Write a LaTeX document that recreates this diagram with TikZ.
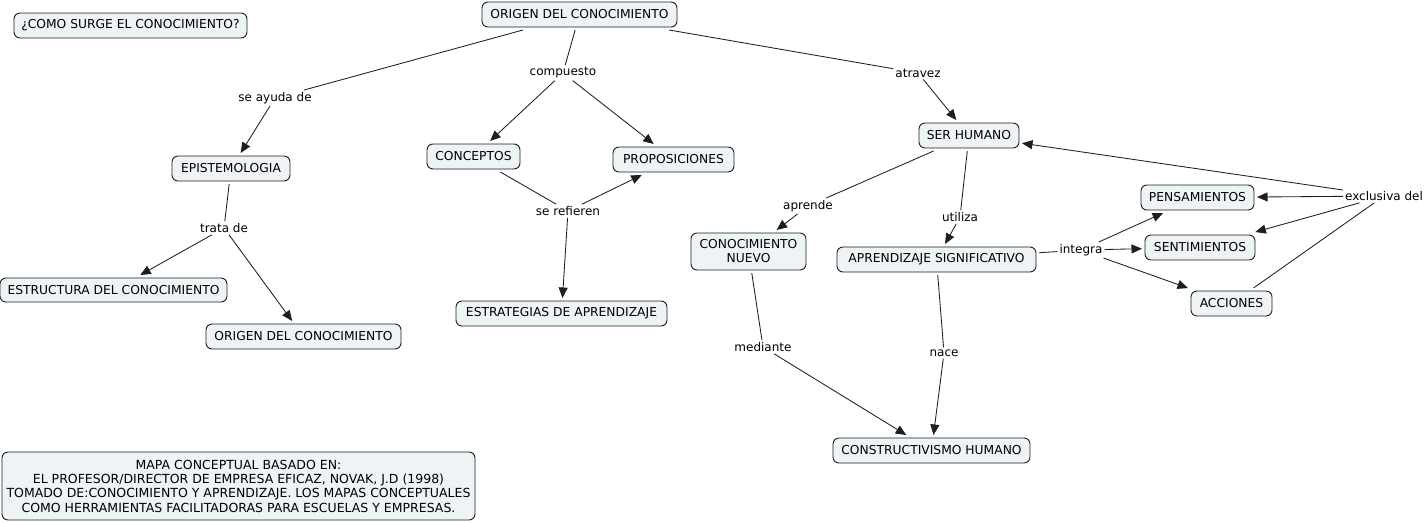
\documentclass[tikz,border=0pt]{standalone}
\usepackage{fontspec}
\setmainfont{DejaVu Sans}
\usetikzlibrary{arrows.meta}
\definecolor{cfill}{RGB}{238,243,246}
\definecolor{cline}{RGB}{30,30,30}
\tikzset{
  concept/.style={draw=cline, fill=cfill, rounded corners=6pt, line width=0.9pt,
    inner sep=0pt, outer sep=3pt, align=center, font=\fontsize{12.3}{14}\selectfont},
  linker/.style={inner sep=2pt, yshift=-1pt, font=\fontsize{12}{14}\selectfont},
  ln/.style={draw=cline, line width=0.85pt},
  arr/.style={ln, -{Triangle[length=10.5pt,width=9pt]}}
}
\begin{document}
\begin{tikzpicture}[x=1pt,y=-1pt]
\useasboundingbox (0,0) rectangle (1426,522);
% concepts
\node[concept, minimum width=233pt, minimum height=25pt] (como) at (130.5,25.5) {¿COMO SURGE EL CONOCIMIENTO?};
\node[concept, minimum width=195pt, minimum height=25pt] (origen) at (579.5,14.5) {ORIGEN DEL CONOCIMIENTO};
\node[concept, minimum width=118pt, minimum height=25pt] (epist) at (231,168.5) {EPISTEMOLOGIA};
\node[concept, minimum width=93pt, minimum height=25pt] (concep) at (473.5,156.5) {CONCEPTOS};
\node[concept, minimum width=121pt, minimum height=25pt] (props) at (673.5,159.5) {PROPOSICIONES};
\node[concept, minimum width=100pt, minimum height=25pt] (ser) at (969,135.5) {SER HUMANO};
\node[concept, minimum width=227pt, minimum height=24pt] (estr) at (113.5,290) {ESTRUCTURA DEL CONOCIMIENTO};
\node[concept, minimum width=195pt, minimum height=25pt] (origen2) at (303.5,336.5) {ORIGEN DEL CONOCIMIENTO};
\node[concept, minimum width=211pt, minimum height=25pt] (estrat) at (561.5,313.5) {ESTRATEGIAS DE APRENDIZAJE};
\node[concept, minimum width=115pt, minimum height=37pt] (cnuevo) at (748.5,251.5) {CONOCIMIENTO\\NUEVO};
\node[concept, minimum width=199pt, minimum height=25pt] (aprsig) at (936.5,259.5) {APRENDIZAJE SIGNIFICATIVO};
\node[concept, minimum width=113pt, minimum height=25pt] (pens) at (1197.5,197.5) {PENSAMIENTOS};
\node[concept, minimum width=110pt, minimum height=25pt] (sent) at (1200,247.5) {SENTIMIENTOS};
\node[concept, minimum width=81pt, minimum height=25pt] (acc) at (1231.5,303.5) {ACCIONES};
\node[concept, minimum width=197pt, minimum height=25pt] (constr) at (931.5,450.5) {CONSTRUCTIVISMO HUMANO};
\node[concept, minimum width=473pt, minimum height=68pt, font=\fontsize{12.5}{14.3}\selectfont] (ref) at (238.5,486) {MAPA CONCEPTUAL BASADO EN:\\EL PROFESOR/DIRECTOR DE EMPRESA EFICAZ, NOVAK, J.D (1998)\\TOMADO DE:CONOCIMIENTO Y APRENDIZAJE. LOS MAPAS CONCEPTUALES\\COMO HERRAMIENTAS FACILITADORAS PARA ESCUELAS Y EMPRESAS.};
% linking phrases
\node[linker] (ayuda) at (275,97) {se ayuda de};
\node[linker] (comp) at (563,72) {compuesto};
\node[linker] (atra) at (918,72) {atravez};
\node[linker] (trata) at (224,227) {trata de};
\node[linker] (refi) at (568,210) {se refieren};
\node[linker] (aprende) at (808,205) {aprende};
\node[linker] (utiliza) at (960,216) {utiliza};
\node[linker] (integra) at (1081,249) {integra};
\node[linker] (excl) at (1384,195) {exclusiva del};
\node[linker] (mediante) at (763,346) {mediante};
\node[linker] (nace) at (944,352) {nace};
% connectors
\draw[ln] (origen) -- (ayuda);
\draw[arr] (ayuda) -- (epist);
\draw[ln] (origen) -- (comp);
\draw[arr] (comp) -- (concep);
\draw[arr] (comp) -- (props);
\draw[ln] (origen) -- (atra);
\draw[arr] (atra) -- (ser);
\draw[ln] (epist) -- (trata);
\draw[arr] (trata) -- (estr);
\draw[arr] (trata) -- (origen2);
\draw[ln] (concep) -- (refi);
\draw[arr] (refi) -- (props);
\draw[arr] (refi) -- (estrat);
\draw[ln] (ser) -- (aprende);
\draw[arr] (aprende) -- (cnuevo);
\draw[ln] (ser) -- (utiliza);
\draw[arr] (utiliza) -- (aprsig);
\draw[ln] (aprsig) -- (integra);
\draw[arr] (integra) -- (pens);
\draw[arr] (integra) -- (sent);
\draw[arr] (integra) -- (acc);
\draw[ln] (acc) -- (excl);
\draw[arr] (excl) -- (ser);
\draw[arr] (excl) -- (pens);
\draw[arr] (excl) -- (sent);
\draw[ln] (cnuevo) -- (mediante);
\draw[arr] (mediante) -- (constr);
\draw[ln] (aprsig) -- (nace);
\draw[arr] (nace) -- (constr);
\end{tikzpicture}
\end{document}
